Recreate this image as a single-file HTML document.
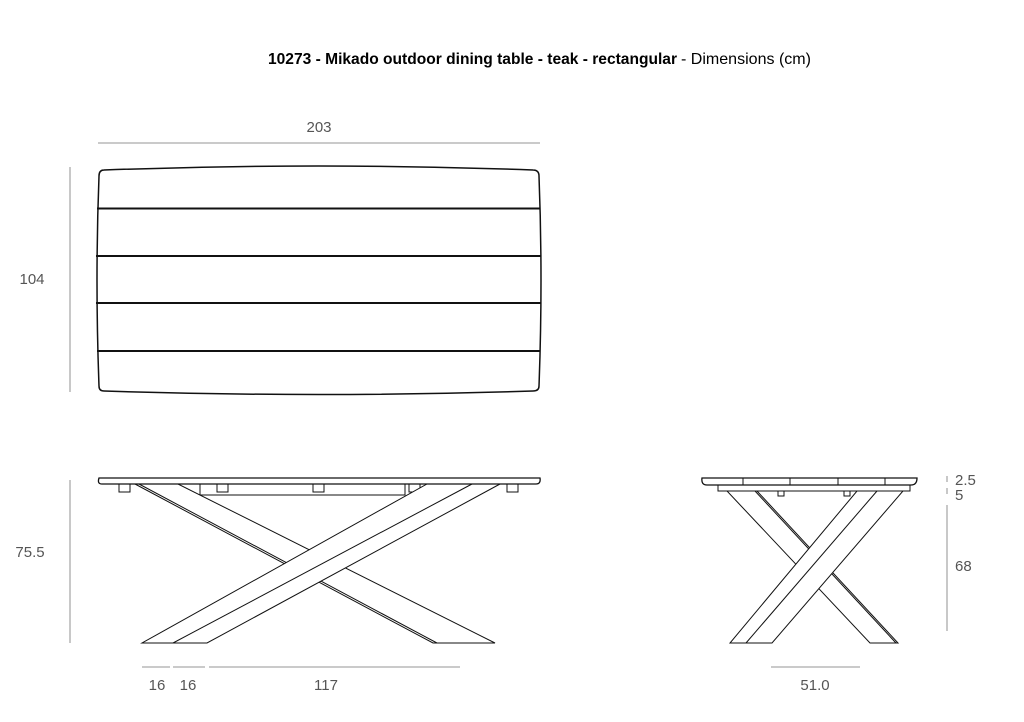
<!DOCTYPE html>
<html><head><meta charset="utf-8"><style>
html,body{margin:0;padding:0;background:#fff;}
svg{display:block;}
</style></head><body>
<svg width="1024" height="722" viewBox="0 0 1024 722" xmlns="http://www.w3.org/2000/svg">
<g font-family="Liberation Sans, sans-serif">
<text x="268" y="64" font-size="16" font-weight="bold" fill="#000" textLength="409" lengthAdjust="spacingAndGlyphs">10273 - Mikado outdoor dining table - teak - rectangular</text>
<text x="681" y="64" font-size="16" fill="#000" textLength="130" lengthAdjust="spacingAndGlyphs">- Dimensions (cm)</text>
</g>
<!-- dimension lines -->
<g stroke="#aaa" stroke-width="1.3" fill="none">
<line x1="98" y1="143" x2="540" y2="143"/>
<line x1="70" y1="167" x2="70" y2="392"/>
<line x1="70" y1="480" x2="70" y2="643"/>
<line x1="142" y1="667" x2="170" y2="667"/>
<line x1="173" y1="667" x2="205" y2="667"/>
<line x1="209" y1="667" x2="460" y2="667"/>
<line x1="771" y1="667" x2="860" y2="667"/>
<line x1="947" y1="476" x2="947" y2="482"/>
<line x1="947" y1="488" x2="947" y2="494"/>
<line x1="947" y1="505" x2="947" y2="631"/>
</g>
<g font-family="Liberation Sans, sans-serif" font-size="15" fill="#555" text-anchor="middle">
<text x="319" y="132">203</text>
<text x="32" y="284">104</text>
<text x="30" y="557">75.5</text>
<text x="157" y="690">16</text>
<text x="188" y="690">16</text>
<text x="326" y="690">117</text>
<text x="815" y="690">51.0</text>
<text x="955" y="485" text-anchor="start">2.5</text>
<text x="955" y="500" text-anchor="start">5</text>
<text x="955" y="571" text-anchor="start">68</text>
</g>
<!-- plan -->
<g stroke="#111" fill="none">
<path d="M104 170 Q319 162 533 170 Q539 170 539 176 Q543 280 539 386 Q539 391 533 391 Q319 398 104 391 Q99 391 99 386 Q95 280 99 176 Q99 170 104 170 Z" stroke-width="1.5"/>
<line x1="97" y1="208.5" x2="540" y2="208.5" stroke-width="2"/>
<line x1="96" y1="256" x2="541" y2="256" stroke-width="2"/>
<line x1="96" y1="303" x2="541" y2="303" stroke-width="2"/>
<line x1="97" y1="351" x2="540" y2="351" stroke-width="2"/>
</g>
<!-- side view -->
<g stroke="#111" stroke-width="1" fill="#fff">
<rect x="200" y="484" width="205" height="11"/>
<rect x="119" y="484" width="11" height="8"/>
<rect x="217" y="484" width="11" height="8"/>
<rect x="313" y="484" width="11" height="8"/>
<rect x="409" y="484" width="11" height="8"/>
<rect x="507" y="484" width="11" height="8"/>
<polygon points="135,484 178,484 495,643 433,643"/>
<line x1="139" y1="484" x2="437" y2="643"/>
<polygon points="427,484 500,484 207,643 142,643"/>
<line x1="472" y1="484" x2="173" y2="643"/>
<path d="M99 478 L540 478 Q541 484 536 484 L102 484 Q97 484 99 478 Z" stroke-width="1.3"/>
</g>
<!-- end view -->
<g stroke="#111" stroke-width="1" fill="#fff">
<rect x="718" y="485" width="192" height="6"/>
<rect x="778" y="491" width="6" height="5"/>
<rect x="844" y="491" width="6" height="5"/>
<polygon points="727,491 757,491 898,643 870,643"/>
<line x1="755" y1="491" x2="896" y2="643"/>
<polygon points="857,491 903,491 772,643 730,643"/>
<line x1="877" y1="491" x2="746" y2="643"/>
<path d="M702 478 L917 478 Q917 485 911 485 L707 485 Q701 485 702 478 Z" stroke-width="1.3"/>
<line x1="743" y1="478" x2="743" y2="485"/>
<line x1="790" y1="478" x2="790" y2="485"/>
<line x1="838" y1="478" x2="838" y2="485"/>
<line x1="885" y1="478" x2="885" y2="485"/>
</g>
</svg>
</body></html>
